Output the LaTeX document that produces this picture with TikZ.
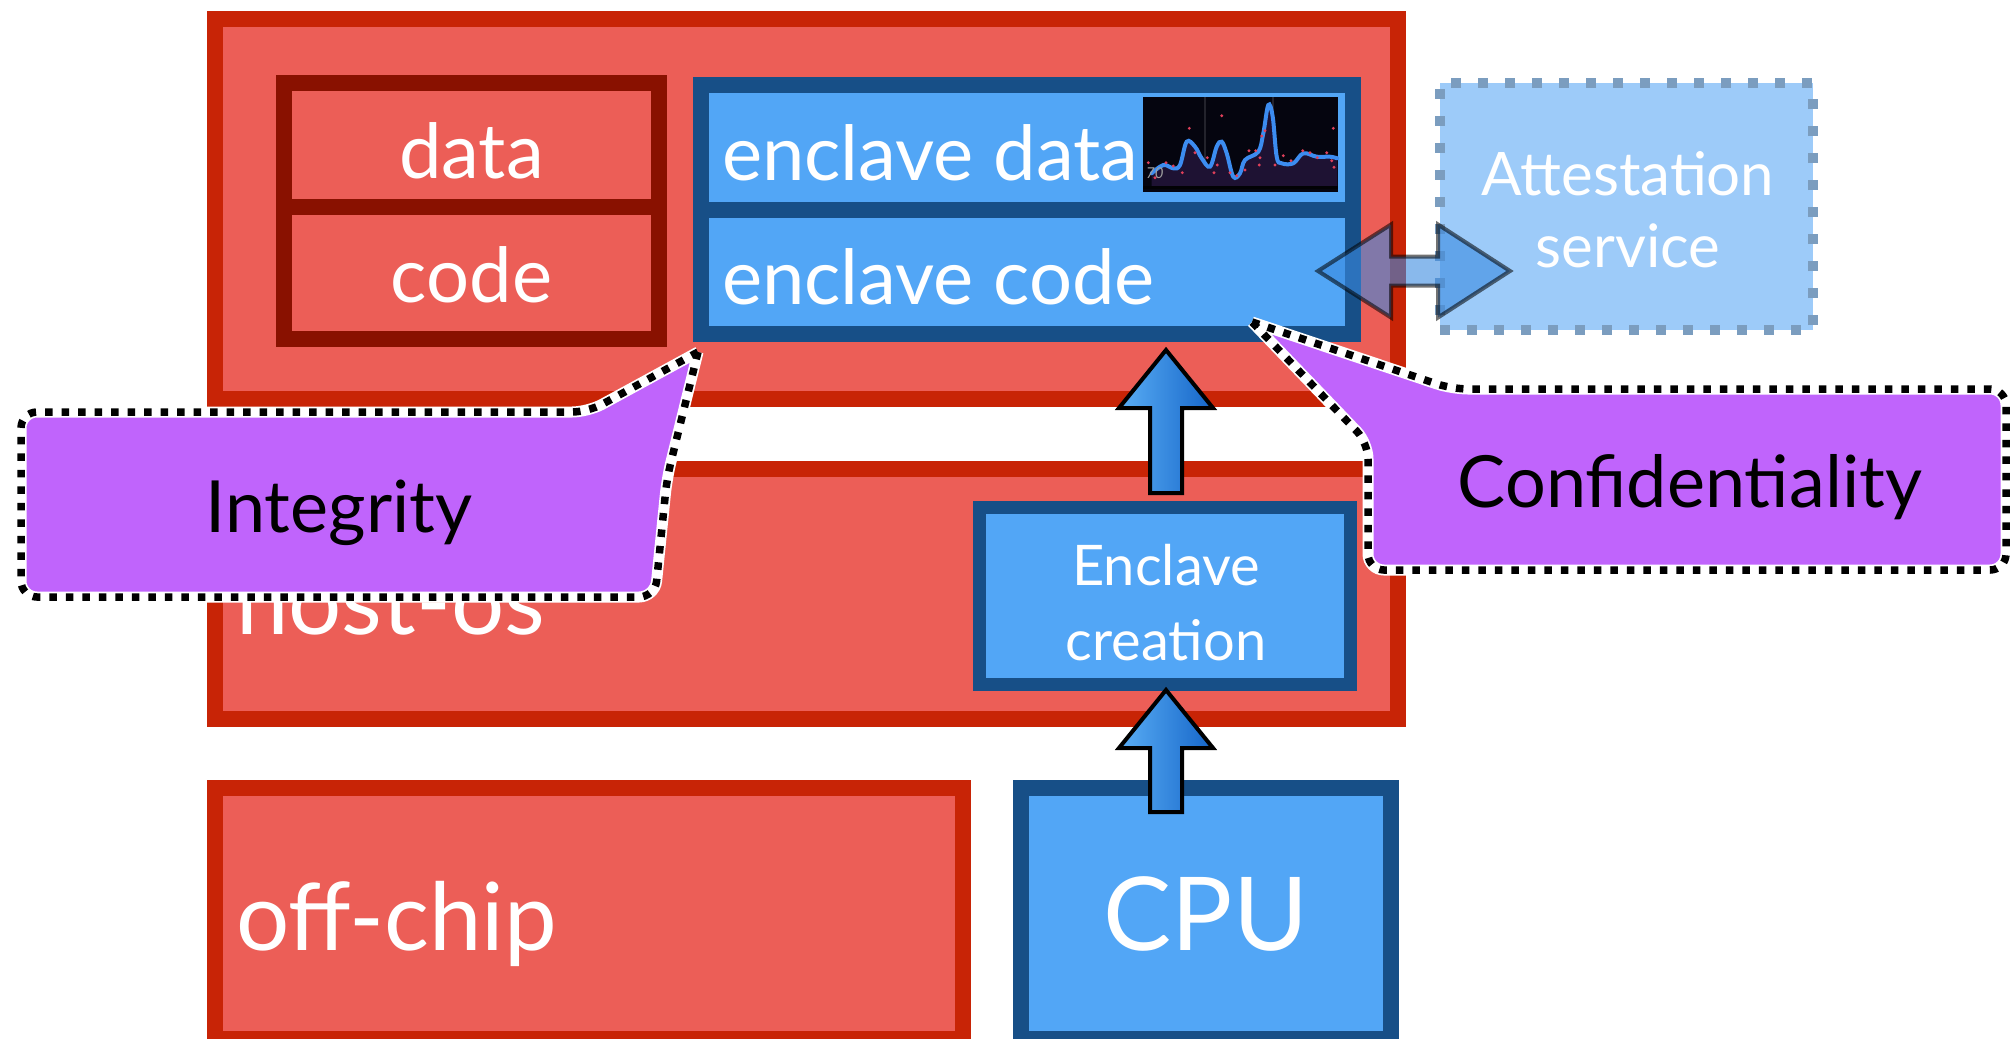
\documentclass[tikz,border=0pt]{standalone}
\usepackage{fontspec}
\setmainfont{Lato}
\usetikzlibrary{calc}

\definecolor{redfill}{HTML}{EC5E57}
\definecolor{redline}{HTML}{C82406}
\definecolor{darkred}{HTML}{891100}
\definecolor{bluefill}{HTML}{52A6F6}
\definecolor{blueline}{HTML}{174F87}
\definecolor{calloutfill}{HTML}{C064FC}
\definecolor{attfill}{HTML}{9DCBF9}
\definecolor{attline}{HTML}{7B9DBF}
\definecolor{arrowlight}{HTML}{5AAEF5}
\definecolor{arrowdark}{HTML}{1565C8}
\definecolor{dblfill}{HTML}{3A8AE0}
\definecolor{chartbg}{HTML}{05050F}
\definecolor{chartarea}{HTML}{1E1233}
\definecolor{chartline}{HTML}{3C8CF0}
\definecolor{chartdot}{HTML}{E0405A}

\newcommand\fsz[1]{\fontsize{#1pt}{#1pt}\selectfont}

% block arrow pointing up: #1 = base coordinate, #2 = tip coordinate
\newcommand\blockarrowup[2]{%
  \path[uparrow] (#2) -- ($(#2)+(47,58)$) -- ($(#2)+(16,58)$) -- ($(#1)+(16,0)$)
    -- ($(#1)+(-16,0)$) -- ($(#2)+(-16,58)$) -- ($(#2)+(-47,58)$) -- cycle;}

\begin{document}
\begin{tikzpicture}[x=1pt,y=-1pt,
  box/.style={inner sep=0pt, outer sep=0pt},
  redbox/.style={box, draw=redline, fill=redfill, line width=16pt},
  memcell/.style={box, draw=darkred, fill=redfill, line width=16pt,
    minimum width=375pt},
  enccell/.style={box, draw=blueline, fill=bluefill, line width=16pt,
    minimum width=652pt},
  cpubox/.style={box, draw=blueline, fill=bluefill, line width=16pt},
  createbox/.style={box, draw=blueline, fill=bluefill, line width=13pt},
  attbox/.style={box, draw=attline, fill=attfill, line width=10pt,
    dash pattern=on 10pt off 17pt},
  wlabel/.style={text=white, inner sep=0pt, outer sep=0pt},
  blabel/.style={text=black, inner sep=0pt, outer sep=0pt},
  uparrow/.style={draw=black, line width=4pt, line join=miter,
    left color=arrowlight, right color=arrowdark},
  dblarrow/.style={draw=black, draw opacity=0.55, line width=4pt,
    line join=miter, fill=dblfill, fill opacity=0.6},
  calloutbody/.style={fill=calloutfill},
  callouthalo/.style={draw=white, line width=11pt},
  calloutedge/.style={draw=black, line width=7.5pt, dash pattern=on 7.5pt off 9pt},
]
\useasboundingbox (0,0) rectangle (2014,1039);
\clip (0,0) rectangle (2014,1039);

% ---- memory regions ----
\node[redbox, minimum width=1183pt, minimum height=380pt] (chip) at (806.5,209) {};
\node[redbox, minimum width=1183pt, minimum height=250pt] (hostos) at (806.5,594) {};
\node[redbox, minimum width=748pt, minimum height=251pt] (offchip) at (589,913.5) {};
\node[cpubox, minimum width=370pt, minimum height=251pt] (cpu) at (1206,913.5) {};

% ---- ordinary data / code ----
\node[memcell, minimum height=123.5pt] (data) at (471.5,144.75) {};
\node[memcell, minimum height=132.5pt] (code) at (471.5,272.75) {};

% ---- enclave data / code ----
\node[enccell, minimum height=124.5pt] (encdata) at (1027,147.25) {};
\node[enccell, minimum height=124.5pt] (enccode) at (1027,271.75) {};

% ---- enclave creation ----
\node[createbox, minimum width=371pt, minimum height=177pt] (create) at (1165,596) {};

% ---- small chart inside the enclave data ----
\node[box, fill=chartbg, minimum width=195pt, minimum height=95pt] (chart) at (1240.5,144.5) {};
\draw[line width=1.5pt, draw=white!12!chartbg] (1205,97) -- (1205,186) (1273,97) -- (1273,186);
\fill[chartarea] plot[smooth, tension=0.6] coordinates {
  (1151.7,173.3) (1163.3,165) (1173.3,168.3) (1180,165) (1186.7,141.7) (1195,146.7)
  (1201.7,158.3) (1210,166.7) (1216.7,146.7) (1221.7,141.7) (1226.7,153.3)
  (1233.3,176.7) (1240,173.3) (1245,160) (1258.3,151.7) (1263.3,133.3) (1268.3,105)
  (1272.7,116.7) (1276.7,156.7) (1281.7,163.3) (1293.3,163.3) (1303.3,153.3)
  (1316.7,156.7) (1330,156.7) (1337.3,158.3)}
  -- (1337.3,186) -- (1151.7,186) -- cycle;
\fill[black!70!chartbg] (1143,186) rectangle (1338,189);
\draw[chartline, line width=4pt, line cap=round] plot[smooth, tension=0.6] coordinates {
  (1151.7,173.3) (1163.3,165) (1173.3,168.3) (1180,165) (1186.7,141.7) (1195,146.7)
  (1201.7,158.3) (1210,166.7) (1216.7,146.7) (1221.7,141.7) (1226.7,153.3)
  (1233.3,176.7) (1240,173.3) (1245,160) (1258.3,151.7) (1263.3,133.3) (1268.3,105)
  (1272.7,116.7) (1276.7,156.7) (1281.7,163.3) (1293.3,163.3) (1303.3,153.3)
  (1316.7,156.7) (1330,156.7) (1337.3,158.3)};
\foreach \px/\py in {1189.3/128.3, 1221.7/115.7, 1265/130.7, 1333.3/128.3,
  1195/152.7, 1207.3/157.7, 1182.3/172.7, 1173.3/166, 1166/162.7, 1155/177.7,
  1148.3/162.7, 1217.3/165, 1214/172.7, 1230/172.7, 1236.7/175.7, 1245/170,
  1249/150.7, 1255.7/150.7, 1260/157.7, 1259.3/165, 1261.7/136, 1275/165,
  1283.3/155.7, 1291/160.7, 1302.7/150.7, 1310/152.7, 1317.3/157.7,
  1326.7/152.7, 1331.7/160.7, 1334/167.3}
  \fill[chartdot] (\px,\py) circle (1.6pt);
\node[text=gray!75, font=\fsz{15}\itshape, anchor=base west, inner sep=0pt] (seventy) at (1146,178) {70};

% ---- attestation service ----
\node[attbox, minimum width=373pt, minimum height=247pt] (attest) at (1626.5,206.5) {};

% ---- labels ----
\node[wlabel, font=\fsz{76}, anchor=base] (datatext) at (471.5,178) {data};
\node[wlabel, font=\fsz{76}, anchor=base] (codetext) at (471.5,302) {code};
\node[wlabel, font=\fsz{76}, anchor=base west] (encdatatext) at (722,180) {enclave data};
\node[wlabel, font=\fsz{76}, anchor=base west] (enccodetext) at (722,304) {enclave code};
\node[wlabel, font=\fsz{94}, anchor=base west] (hostostext) at (236,634) {host-os};
\node[wlabel, font=\fsz{94}, anchor=base west] (offchiptext) at (236,950) {off-chip};
\node[wlabel, font=\fsz{102}, anchor=base] (cputext) at (1206,950) {CPU};
\node[wlabel, font=\fsz{56}, anchor=base] (createtext1) at (1166,585) {Enclave};
\node[wlabel, font=\fsz{56}, anchor=base] (createtext2) at (1166,660) {creation};
\node[wlabel, font=\fsz{60}, anchor=base] (atttext1) at (1628,195) {Attestation};
\node[wlabel, font=\fsz{60}, anchor=base] (atttext2) at (1628,267) {service};

% ---- creation arrows ----
\coordinate (a1base) at (1166,493);
\coordinate (a1tip) at (1166,350);
\coordinate (a2base) at (1166,812);
\coordinate (a2tip) at (1166,690);
\blockarrowup{a1base}{a1tip}
\blockarrowup{a2base}{a2tip}

% ---- attestation exchange arrow ----
\coordinate (dleft) at (1318,271);
\coordinate (dright) at (1510,271);
\path[dblarrow] (dleft) -- ($(dleft)+(73,-46.5)$) -- ($(dleft)+(73,-14.5)$)
  -- ($(dright)+(-72,-14.5)$) -- ($(dright)+(-72,-46.5)$) -- (dright)
  -- ($(dright)+(-72,46.5)$) -- ($(dright)+(-72,14.5)$)
  -- ($(dleft)+(73,14.5)$) -- ($(dleft)+(73,46.5)$) -- cycle;

% ---- integrity callout ----
\foreach \sty in {calloutbody, callouthalo, calloutedge}
  \path[\sty] (698,352) [rounded corners=16pt] -- (588,412) -- (21,412)
    -- (21,597) -- (655,597) -- (667,478) -- (698,352);
\node[blabel, font=\fsz{72}, anchor=base] (integrity) at (339,532) {Integrity};

% ---- confidentiality callout ----
\foreach \sty in {calloutbody, callouthalo, calloutedge}
  \path[\sty] (1252,322) [rounded corners=16pt] -- (1452,389) -- (2006,389)
    -- (2006,570) -- (1368,570) -- (1368,443) -- (1252,322);
\node[blabel, font=\fsz{72}, anchor=base] (confidentiality) at (1690,507) {Confidentiality};
\end{tikzpicture}
\end{document}
